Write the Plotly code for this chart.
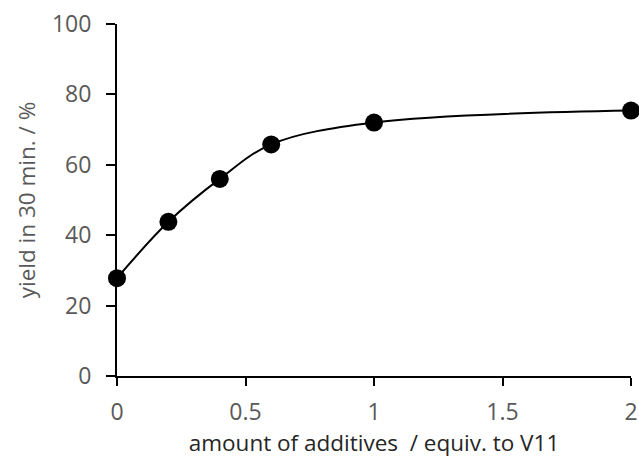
import plotly.graph_objects as go

x_vals = [0, 0.2, 0.4, 0.6, 1.0, 2.0]
y_vals = [27.8, 43.8, 56.0, 65.8, 72.0, 75.4]
x_ticks = [0, 0.5, 1, 1.5, 2]
x_tick_text = ["0", "0.5", "1", "1.5", "2"]
y_ticks = [0, 20, 40, 60, 80, 100]

fig = go.Figure()
fig.add_trace(go.Scatter(
    x=x_vals, y=y_vals, mode="lines+markers",
    line=dict(color="black", width=2, shape="spline", smoothing=1.0),
    marker=dict(color="black", size=18),
    cliponaxis=False, showlegend=False,
))

font_family = "Open Sans"
fig.update_layout(
    width=639, height=459,
    margin=dict(l=117, r=8, t=24, b=83),
    paper_bgcolor="white", plot_bgcolor="white",
    font=dict(family=font_family, color="#595959"),
    xaxis=dict(
        range=[0, 2], tickvals=x_ticks, ticktext=x_tick_text,
        showline=True, linecolor="black", linewidth=2,
        ticks="outside", ticklen=8, tickwidth=2, tickcolor="black",
        ticklabelstandoff=6, automargin=False,
        showgrid=False, zeroline=False,
        tickfont=dict(size=23, color="#595959", family=font_family),
        title=dict(text="amount of additives  / equiv. to V11",
                   font=dict(size=22.5, color="#262626", family=font_family), standoff=7),
    ),
    yaxis=dict(
        range=[0, 100], tickvals=y_ticks,
        showline=True, linecolor="black", linewidth=2,
        ticks="outside", ticklen=9, tickwidth=2, tickcolor="black",
        ticklabelstandoff=10, automargin=False,
        showgrid=False, zeroline=False,
        tickfont=dict(size=23, color="#595959", family=font_family),
        title=dict(text="yield in 30 min. / %",
                   font=dict(size=22.5, color="#595959", family=font_family), standoff=10),
    ),
)
fig.write_html("out.html")
